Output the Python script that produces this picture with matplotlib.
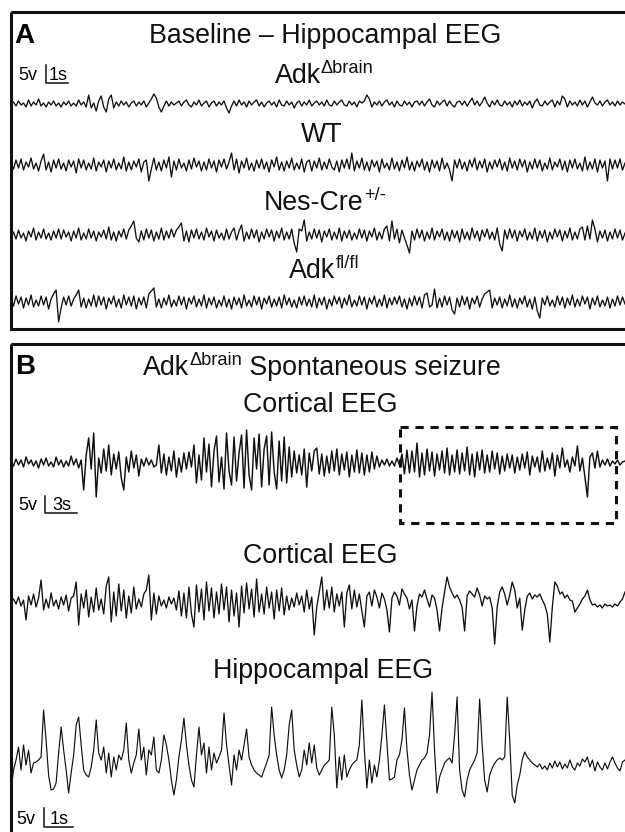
import numpy as np
import matplotlib
matplotlib.use("Agg")
import matplotlib.pyplot as plt
from matplotlib.patches import Rectangle

plt.rcParams['font.family'] = ['Liberation Sans', 'DejaVu Sans']

# EEG traces (amplitude, positive = up, ~1 unit per px)
# Panel A - baseline hippocampal EEG
adk_brain_base = [
    0, 2, -2, 3, -1, 1, -3, 4, -2, 2, -1, 5, -2, 1, -3, 2, -1, 3, -2, 1,
    -3, 2, -1, 3, -2, 1, -2, 4, -1, 2, -3, 9, -4, 1, -7, 3, 8, -3, -8, 5,
    9, -4, 2, -2, 3, -1, 2, -3, 1, 3, -2, 2, -1, 3, -3, 1, 5, 10, 6, -3,
    -8, -2, 3, -2, 2, -1, 1, 3, -2, 2, 4, -1, -3, 2, -1, 4, -2, 1, 3, -3,
    1, 3, -2, 2, -1, 3, -4, -9, -2, 3, -2, 4, -1, 2, -3, 3, -1, 2, 4, -2,
    2, -3, 1, 3, -1, 2, -3, 4, -1, -2, 3, -1, 2, -4, 1, 3, -2, 2, -1, 4,
    -2, 1, 3, -1, 2, -2, 4, -1, -2, 3, -1, 2, 4, -1, -2, 3, -1, 2, -3, 3,
    1, 3, 9, 5, -3, 2, -1, 3, -2, 2, 4, -1, 2, -3, 3, -1, -2, 3, -1, 2,
    -3, 2, 3, -1, 3, -2, 2, 5, -1, -3, 3, -1, 2, 4, -2, 3, -1, -3, 2, 3,
    -1, 3, -2, 2, 6, -1, 3, -2, 2, 7, 1, -3, 3, -1, 4, -1, -2, 3, -1, 2,
    -3, 3, -1, 4, -2, 2, -1, 3, -4, 2, 5, -1, -2, 3, -1, 2, 4, -3, 3, -1,
    8, 5, -3, 3, -1, 2, -2, 4, -1, 3, -3, 2, 7, 1, -1, 3, -2, 2, 4, -1,
    2, -2, 3, -1, 2, 0]

wt_base = [
    2, -4, 5, -3, 6, -5, 3, -2, 7, -4, 2, -6, 4, 11, -5, 3, -7, 5, -3, 6,
    -4, 2, -6, 5, -2, 4, -8, 6, -3, 5, -5, 2, -4, 7, -6, 3, -2, 5, -7, 4,
    -3, 6, -5, 2, -4, 8, -6, 3, -5, 4, -2, 6, -7, 3, 5, -16, -4, 7, -5, 3,
    -6, 5, -3, 8, -12, 4, -5, 6, -3, 2, -6, 5, -4, 7, -2, 4, -6, 3, -5, 6,
    -3, 4, -7, 5, -2, 6, -4, 3, 12, -5, 6, -8, 4, -3, 7, -5, 2, -6, 5, -3,
    6, -4, 3, -7, 5, -2, 8, -5, 3, -6, 4, -3, 7, -5, 2, -4, 6, -7, 3, 5,
    -6, 4, -3, 7, -5, 3, -4, 6, -2, -5, 4, -7, 5, -3, 6, -4, 12, -6, 4, -3,
    7, -5, 3, -6, 5, -2, 4, -7, 6, -3, 2, -5, 7, -4, 3, -6, 5, -3, 8, -5,
    3, -6, 4, -2, 6, -5, 3, -7, 5, -3, 4, -6, 7, -4, 2, -5, -16, 5, -3, 6,
    -4, 3, -6, 5, -2, 7, -5, 4, -3, 6, -7, 3, -4, 5, -2, 6, -5, 3, -6, 7,
    -3, 4, -5, 6, -2, 5, -7, 3, -4, 6, -3, 5, -6, 2, -4, 7, -5, 3, -2, 6,
    -5, 4, -7, 5, -3, 6, -4, 2, -6, 8, -5, 3, -4, 6, -7, 5, -3, 4, -16, 6,
    -4, 5, -3, 6, -5, 2]

nescre_base = [
    -2, 3, -4, 5, -3, 2, -6, 4, -2, 7, -5, 3, -3, 6, -4, 2, -5, 4, -3, 6,
    -4, 5, -2, 3, -6, 4, -3, 7, -5, 2, -4, 6, -3, 4, -6, 3, -2, 5, -4, 8,
    -5, 3, -6, 4, -2, 6, -4, 5, 9, 14, -3, -7, 4, -5, 6, -3, 5, -6, 3, -4,
    7, -5, 4, -3, 6, -2, 5, 8, 12, -6, 4, -7, 5, -3, 6, -4, 3, -5, 7, -2,
    4, -6, 5, -3, 2, -5, 6, -4, 3, 7, -5, 4, 10, -6, 3, -4, 6, -3, 5, -7,
    3, -4, 6, -2, 5, -6, 4, -3, 7, -5, 3, -4, 6, -8, -17, 6, 4, 15, -6, 3,
    -4, 6, -3, 5, -7, 4, -2, 6, -5, 3, -4, 7, -6, 4, -3, 5, -5, 2, -4, 6,
    -3, 5, -6, 4, -2, 7, -5, 3, -4, 6, 9, -6, 14, -4, 6, -8, 5, -3, -10, -18,
    4, -5, 6, -3, 5, -6, 3, -4, 7, -5, 4, -2, 6, -5, 3, -6, 5, -3, 4, -7,
    6, -4, 3, -5, 7, -3, 4, -6, 5, -2, 6, -4, 3, -5, 7, -9, -16, 5, -4, 6,
    -3, 5, -6, 4, -2, 6, -5, 3, -4, 7, -6, 4, -3, 5, -7, 3, -4, 6, -2, 5,
    -6, 4, -3, 7, -5, 3, -4, 6, 8, -5, 9, -4, 15, 6, -7, 4, -3, 5, -6, 3,
    -4, 6, -3, 5, -5, 2]

adk_flfl_base = [
    3, -4, 6, -2, 5, -6, 4, -3, 7, -5, 2, -4, 6, -3, 5, -7, 3, 8, 12, -20,
    -6, 5, -3, 6, -4, 3, 7, 12, -5, 4, -6, 3, -4, 7, -5, 6, -3, 5, -7, 4,
    -2, 6, -5, 3, -6, 7, -3, 5, -4, 6, -7, 4, -3, 5, -6, 8, 11, 14, -5, 3,
    -6, 4, -3, 7, -5, 2, -4, 6, -3, 5, -7, 4, -2, 6, -5, 3, -4, 7, -6, 4,
    -3, 5, -6, 2, -4, 6, -5, 3, -7, 5, -3, 4, -6, 7, -4, 2, -5, 6, -3, 5,
    -7, 4, -2, 6, -5, 3, -4, 5, -6, 7, -3, 4, -5, 2, -6, 5, -3, 6, -4, 3,
    -5, 7, -6, 4, -3, 5, -7, 3, -4, 6, -2, 5, -6, 4, -3, 7, -5, 2, -4, 6,
    -3, 5, -7, 4, -2, 6, -5, 3, -4, 7, -6, 4, -3, 5, -2, 6, -5, 3, -7, 4,
    -4, 6, -3, 5, -6, 7, 9, -5, -3, 13, -6, 4, -5, 6, -3, 5, -8, -12, 4, -5,
    6, -3, 5, -7, 4, -2, 6, -5, 3, 8, 10, 12, -6, 4, -3, 5, -6, 3, -4, 7,
    -5, 3, -6, 4, -2, 6, -5, 3, -7, 5, -9, -16, 4, -3, 6, -4, 2, -5, 6, -3,
    5, -6, 4, -3, 7, -5, 3, -4, 6, -2, 5, -7, 4, -3, 6, -5, 2, -4, 5, -6,
    3, -4, 6, -3, 5, -2]

# Panel B - spontaneous seizure
cortical_3s = [
    2, -3, 4, -2, 3, -4, 6, -1, 3, -3, 2, -5, 4, -2, 5, -3, 1, -4, 6, -2,
    3, -4, 2, -3, 7, -2, 4, -5, 3, -27, 8, 25, -6, 30, -34, 5, -10, 14, -8, 18,
    -12, 9, -6, 11, -15, -27, 6, -9, 12, -5, 8, -13, 4, -3, 5, -2, 3, -4, -2, 18,
    -10, 9, -12, 6, -8, 12, -14, 5, -9, 10, -6, 11, -4, 18, -20, 8, -17, 25, -9, 19,
    -24, 12, 27, -19, 6, -26, 30, -8, -22, 26, -18, 10, 28, -25, 33, -12, -27, 25, -6, 29,
    -24, 14, 27, -22, 31, -9, -26, 22, -18, 26, -20, 16, -14, 12, -10, 8, -12, 14, -24, 10,
    -8, 12, 15, -11, 9, -13, 7, -10, 12, -8, 14, -12, 9, -7, 11, -14, 8, -9, 13, -10,
    10, -12, 8, -9, 11, -6, 7, -4, 3, -2, 4, -3, 2, -3, 5, -2, 9, -11, 13, -10,
    12, -9, 20, -14, 10, -12, 14, -8, 11, -13, 9, -7, 12, -10, 15, -12, 8, -9, 13, -11,
    10, -8, 16, -12, 9, -14, 11, -7, 13, -10, 8, -9, 12, -6, 10, -11, 7, -8, 9, -5,
    8, -10, 6, -7, 9, -5, 11, -12, 7, -4, 6, -9, 12, -8, 5, -6, 10, -13, 8, -5,
    15, -4, 3, -9, 6, -3, 17, -8, 5, -14, -34, 6, 10, -5, 12, -4, 3, -2, 4, -3,
    2, -1, 3, -2, 1, 2]

cortical_1s = [
    0, 3, -2, 5, -4, 2, -18, 6, -3, 8, -5, 4, 22, -8, 3, -6, 9, -4, 2, -7,
    5, -3, 7, -9, 4, 6, 20, -23, 8, -6, 12, -15, 5, -10, 14, -8, 3, -12, 16, 25,
    -20, 10, -14, 18, -9, 12, -16, 6, -11, 15, -7, 3, -5, 8, 12, 27, -18, 9, -12, 6,
    -4, 2, -6, 5, -2, 4, -8, 11, -14, 9, -16, 15, -12, -25, 17, -10, 13, -18, 20, -9,
    14, -16, 10, -12, 18, -8, 15, -20, 12, -14, 9, -25, 16, -11, 19, -7, 13, -15, 23, -10,
    8, -12, 15, -6, 10, -17, 12, -9, 14, -13, 6, -8, 4, -5, 9, -3, 6, -10, 12, -7,
    5, -33, -5, 10, 25, -8, 12, -6, 15, -10, 8, -4, 10, -25, 9, 17, -7, 12, -5, 8,
    -9, -25, 6, 10, -4, 12, 5, -6, 9, 3, -8, -30, 4, 10, 6, -3, 13, 8, 4, -7,
    2, -29, -4, 8, 5, 12, 3, -5, 7, 4, -8, -29, -6, 10, 25, 15, 9, 4, 7, 2,
    -5, -29, 6, 11, 8, 5, 14, 7, -4, 6, 3, 5, -6, -42, -5, 10, 15, 8, -3, 7,
    20, 12, -6, 4, -28, -8, 6, 9, 3, 7, 5, 8, 2, -3, -12, -40, -5, 20, 16, 8,
    10, 4, 7, 2, 1, -10, -6, -2, 3, 6, 12, 2, -3, -2, -5, -3, -6, -2, -4, -3,
    -5, -2, -4, 0, 3, 10]

hippocampal_1s = [
    -25, -5, 5, 18, -5, 20, 0, 15, -8, 2, 3, 5, 8, 55, 25, -10, -25, -24, -18, 12,
    38, 15, -5, -28, -8, 10, 40, 48, 20, -5, -10, -12, -2, 15, 45, 12, 5, 18, -8, 12,
    -12, 8, -5, 10, 5, 15, 42, 5, -8, 2, 10, 36, 5, 18, -10, 15, 10, 28, -5, -8,
    5, 30, 20, 5, -15, -30, -15, 8, 25, 47, 20, 0, -15, -22, 10, 38, 10, 22, -8, 18,
    -5, 12, 2, 8, 15, 52, 20, 0, -20, 10, -5, 15, 5, 20, 36, 8, 0, -5, -8, -10,
    -12, -5, 2, 10, 58, 30, 10, -5, -13, -5, 10, 40, 55, 15, 0, -12, -5, 15, 0, 22,
    2, 20, -3, -10, -5, 0, 2, 5, 58, 30, -23, 8, -15, 10, -12, -5, 0, 3, 5, 20,
    65, 15, -23, 5, -18, 0, -12, 5, 30, 60, 22, -15, -14, -12, 5, 10, 25, 57, 15, -10,
    -25, -15, -5, 0, 5, 7, 12, 30, 73, 15, -28, -12, -5, 2, 5, 7, 2, 30, 68, -5,
    -25, -32, -15, -5, 0, 5, 12, 66, 20, -15, -27, -10, -3, 2, 5, 7, 5, 8, 68, 25,
    -30, -38, -20, -10, 5, 13, 8, 5, 2, 0, -2, 1, -4, -1, -5, 2, -3, 4, -2, 3,
    -4, 1, -3, 5, -2, -5, 2, -1, 6, 3, 8, -2, 5, -6, 3, -2, -5, 2, -4, 3,
    8, 2, -3, -6, 3, 5]

# ---- layout (page pixels) ----
W, H = 625, 832
fig = plt.figure(figsize=(W / 100, H / 100), dpi=100)
ax = fig.add_axes([0, 0, 1, 1])
ax.set_xlim(0, W)
ax.set_ylim(H, 0)
ax.axis('off')
renderer = fig.canvas.get_renderer()

INK = '#111111'
TITLE_PT = 19.3


def draw_trace(vals, y0, x0=11, x1=W, lw=0.95):
    v = np.asarray(vals, dtype=float)
    x = np.linspace(x0, x1, len(v))
    ax.plot(x, y0 - v, color=INK, lw=lw)


def label(xc, y, parts, size=TITLE_PT):
    # parts: list of (text, is_superscript); centred at xc, baseline y
    items = []
    for txt, sup in parts:
        fs = size * 0.68 if sup else size
        t = ax.text(0, y, txt, fontsize=fs, ha='left', va='baseline', color=INK)
        items.append((t, sup, t.get_window_extent(renderer).width))
    total = sum(w for _, _, w in items)
    x = xc - total / 2
    for t, sup, w in items:
        t.set_x(x)
        if sup:
            t.set_y(y - size * 100 / 72 * 0.36)
        x += w


def scale_bar(x, y_bot, h, w, vtxt, ttxt, size=13):
    ax.plot([x, x, x + w], [y_bot - h, y_bot, y_bot], color=INK, lw=1.1)
    ax.text(x - 8, y_bot - 3, vtxt, fontsize=size, ha='right', va='baseline')
    ax.text(x + w / 2 + 1, y_bot - 3, ttxt, fontsize=size, ha='center', va='baseline')


# panel frames
ax.add_patch(Rectangle((11, 11.5), 700, 317.5, fill=False, lw=2.2, ec=INK))
ax.add_patch(Rectangle((11, 344), 700, 600, fill=False, lw=2.2, ec=INK))

# ---- Panel A ----
ax.text(14, 43, 'A', fontsize=20, fontweight='bold', va='baseline')
label(325, 43, [('Baseline \u2013 Hippocampal EEG', False)])
scale_bar(45.7, 83, 18, 22, '5v', '1s')

label(324, 83, [('Adk', False), ('\u0394brain', True)])
draw_trace(adk_brain_base, 104)
label(322, 142, [('WT', False)])
draw_trace(wt_base, 165)
label(325, 210, [('Nes-Cre', False), ('+/-', True)])
draw_trace(nescre_base, 235)
label(324, 278, [('Adk', False), ('fl/fl', True)])
draw_trace(adk_flfl_base, 302)

# ---- Panel B ----
ax.text(15, 374, 'B', fontsize=20, fontweight='bold', va='baseline')
label(322, 375, [('Adk', False), ('\u0394brain', True), (' Spontaneous seizure', False)])
label(320, 412, [('Cortical EEG', False)])
draw_trace(cortical_3s, 463, lw=1.05)
ax.add_patch(Rectangle((400, 427), 216, 96, fill=False, lw=2.2, ec=INK,
                       ls=(0, (2.7, 2.2))))
scale_bar(45, 513, 17, 32, '5v', '3s')

label(320, 563, [('Cortical EEG', False)])
draw_trace(cortical_1s, 602)

label(323, 678, [('Hippocampal EEG', False)])
draw_trace(hippocampal_1s, 765, lw=0.85)
scale_bar(43.5, 827, 19, 29, '5v', '1s')

fig.savefig('out.png', dpi=100)
